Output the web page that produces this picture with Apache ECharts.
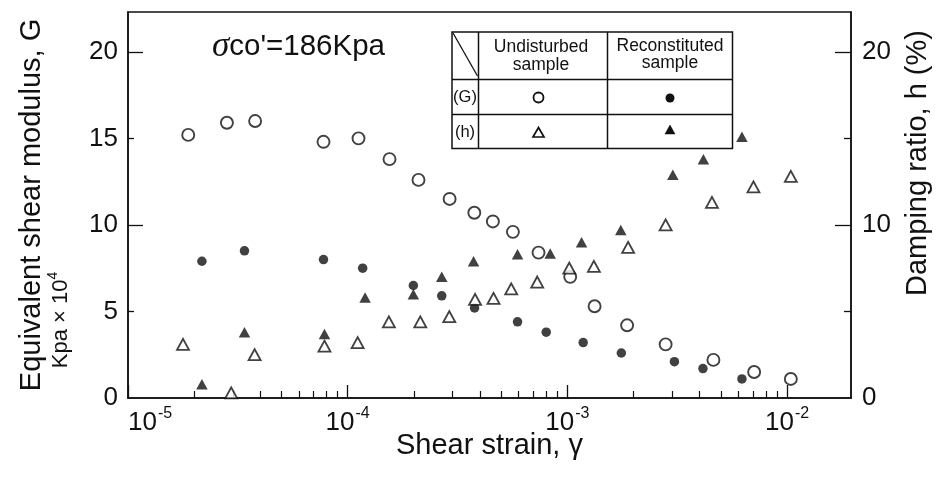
<!DOCTYPE html>
<html><head><meta charset="utf-8">
<script src="https://cdn.jsdelivr.net/npm/echarts@6/dist/echarts.min.js"></script>
<style>html,body{margin:0;padding:0;background:#fff}#c{width:940px;height:481px}</style>
</head><body><div id="c"></div>
<script>
// ---- data (shear strain, G in Kpa x 10^4, h in %) ----
const undisturbedG_strain = [1.88e-5, 2.82e-5, 3.79e-5, 7.76e-5, 1.12e-4, 1.55e-4, 2.10e-4, 2.91e-4, 3.77e-4, 4.58e-4, 5.65e-4, 7.39e-4, 1.03e-3, 1.33e-3, 1.87e-3, 2.80e-3, 4.62e-3, 7.08e-3, 1.04e-2];
const undisturbedG_value  = [15.2, 15.9, 16.0, 14.8, 15.0, 13.8, 12.6, 11.5, 10.7, 10.2, 9.6, 8.4, 7.0, 5.3, 4.2, 3.1, 2.2, 1.5, 1.1];

const reconstitutedG_strain = [2.17e-5, 3.39e-5, 7.76e-5, 1.17e-4, 1.99e-4, 2.68e-4, 3.78e-4, 5.93e-4, 8.01e-4, 1.18e-3, 1.76e-3, 3.07e-3, 4.14e-3, 6.23e-3];
const reconstitutedG_value  = [7.9, 8.5, 8.0, 7.5, 6.5, 5.9, 5.2, 4.4, 3.8, 3.2, 2.6, 2.1, 1.7, 1.1];

const undisturbedH_strain = [1.78e-5, 2.95e-5, 3.77e-5, 7.84e-5, 1.11e-4, 1.54e-4, 2.14e-4, 2.90e-4, 3.80e-4, 4.61e-4, 5.55e-4, 7.29e-4, 1.02e-3, 1.32e-3, 1.89e-3, 2.80e-3, 4.55e-3, 7.03e-3, 1.04e-2];
const undisturbedH_value  = [3.1, 0.3, 2.5, 3.0, 3.2, 4.4, 4.4, 4.7, 5.7, 5.75, 6.3, 6.7, 7.5, 7.6, 8.7, 10.0, 11.3, 12.2, 12.8];

const reconstitutedH_strain = [2.17e-5, 3.39e-5, 7.84e-5, 1.20e-4, 1.99e-4, 2.68e-4, 3.74e-4, 5.93e-4, 8.35e-4, 1.16e-3, 1.75e-3, 3.02e-3, 4.16e-3, 6.23e-3];
const reconstitutedH_value  = [0.8, 3.8, 3.7, 5.8, 6.0, 7.0, 7.9, 8.3, 8.35, 9.0, 9.7, 12.9, 13.8, 15.1];

const xMajorTicks = [1e-5, 1e-4, 1e-3, 1e-2];
const xMinorTicks = [2e-5,3e-5,4e-5,5e-5,6e-5,7e-5,8e-5,9e-5, 2e-4,3e-4,4e-4,5e-4,6e-4,7e-4,8e-4,9e-4, 2e-3,3e-3,4e-3,5e-3,6e-3,7e-3,8e-3,9e-3];
const leftLabels = [0, 5, 10, 15, 20];
const rightLabels = [0, 10, 20];
const yMajorTicks = [10, 20];
const yMinorTicks = [5, 15];

const X_MIN = 1e-5, X_MAX = 0.01954, Y_MIN = 0, Y_MAX = 22.3;
const INK = '#111';
const FONT = 'Liberation Sans, Arial, Helvetica, sans-serif';

function pairs(xs, ys) { return xs.map((x, i) => [x, ys[i]]); }

const chart = echarts.init(document.getElementById('c'), null, {renderer: 'canvas'});

const xBase = {
  type: 'log', logBase: 10, min: X_MIN, max: X_MAX, gridIndex: 0, position: 'bottom',
  splitLine: {show: false}, minorTick: {show: false}, minorSplitLine: {show: false}
};
const yBase = {type: 'value', min: Y_MIN, max: Y_MAX, splitLine: {show: false}};
const ctr = {align: 'center', verticalAlign: 'middle', textAlign: 'center', textVerticalAlign: 'middle'};

const option = {
  animation: false,
  backgroundColor: '#fff',
  grid: {left: 128, top: 12, width: 723, height: 386, show: true, borderColor: INK, borderWidth: 1.5, backgroundColor: 'transparent'},
  xAxis: [
    Object.assign({}, xBase, {
      axisLine: {show: true, lineStyle: {color: INK, width: 1.5}},
      axisTick: {show: true, inside: true, length: 13, customValues: xMajorTicks, lineStyle: {color: INK, width: 1.3}},
      axisLabel: {
        show: true, customValues: xMajorTicks, margin: 8, alignMinLabel: 'left', color: INK,
        formatter: function (v) { const e = Math.round(Math.log10(v)); return '{b|10}{s|-' + (-e) + '}'; },
        rich: {
          b: {fontSize: 26, fontFamily: FONT, color: INK, lineHeight: 30, verticalAlign: 'bottom'},
          s: {fontSize: 16, fontFamily: FONT, color: INK, lineHeight: 30, verticalAlign: 'top', padding: [0, 0, 12, 1]}
        }
      },
      name: 'Shear strain, γ', nameLocation: 'middle', nameGap: 33, nameMoveOverlap: false,
      nameTextStyle: {fontSize: 29, fontFamily: FONT, color: INK}
    }),
    Object.assign({}, xBase, {
      axisLine: {show: false},
      axisTick: {show: true, inside: true, length: 7, customValues: xMinorTicks, lineStyle: {color: INK, width: 1.2}},
      axisLabel: {show: false}
    })
  ],
  yAxis: [
    Object.assign({}, yBase, {
      position: 'left',
      axisLine: {show: true, lineStyle: {color: INK, width: 1.5}},
      axisTick: {show: true, inside: true, length: 15, customValues: yMajorTicks, lineStyle: {color: INK, width: 1.3}},
      axisLabel: {show: true, customValues: leftLabels, margin: 10, fontSize: 26, fontFamily: FONT, color: INK, padding: [0, 0, 10, 0]},
      name: 'Equivalent shear modulus, G', nameLocation: 'middle', nameRotate: 90, nameGap: 82, nameMoveOverlap: false,
      nameTextStyle: {fontSize: 29, fontFamily: FONT, color: INK}
    }),
    Object.assign({}, yBase, {
      position: 'left',
      axisLine: {show: false},
      axisTick: {show: true, inside: true, length: 6, customValues: yMinorTicks, lineStyle: {color: INK, width: 1.3}},
      axisLabel: {show: false}
    }),
    Object.assign({}, yBase, {
      position: 'right',
      axisLine: {show: true, lineStyle: {color: INK, width: 1.5}},
      axisTick: {show: true, inside: true, length: 16, customValues: yMajorTicks, lineStyle: {color: INK, width: 1.3}},
      axisLabel: {show: true, customValues: rightLabels, margin: 11, fontSize: 26, fontFamily: FONT, color: INK, padding: [0, 0, 10, 0]},
      name: 'Damping ratio, h (%)', nameLocation: 'middle', nameRotate: 90, nameGap: 52, nameMoveOverlap: false,
      nameTextStyle: {fontSize: 29, fontFamily: FONT, color: INK, padding: [0, 0, 0, 84]}
    }),
    Object.assign({}, yBase, {
      position: 'right',
      axisLine: {show: false},
      axisTick: {show: true, inside: true, length: 7, customValues: yMinorTicks, lineStyle: {color: INK, width: 1.3}},
      axisLabel: {show: false}
    })
  ],
  series: [
    {name: 'Undisturbed sample (G)', type: 'scatter', xAxisIndex: 0, yAxisIndex: 0,
     symbol: 'circle', symbolSize: 12, itemStyle: {color: '#fff', borderColor: INK, borderWidth: 1.9},
     data: pairs(undisturbedG_strain, undisturbedG_value)},
    {name: 'Reconstituted sample (G)', type: 'scatter', xAxisIndex: 0, yAxisIndex: 0,
     symbol: 'circle', symbolSize: 9.5, itemStyle: {color: INK},
     data: pairs(reconstitutedG_strain, reconstitutedG_value)},
    {name: 'Undisturbed sample (h)', type: 'scatter', xAxisIndex: 0, yAxisIndex: 2,
     symbol: 'triangle', symbolSize: [12, 11], itemStyle: {color: '#fff', borderColor: INK, borderWidth: 1.8},
     data: pairs(undisturbedH_strain, undisturbedH_value)},
    {name: 'Reconstituted sample (h)', type: 'scatter', xAxisIndex: 0, yAxisIndex: 2,
     symbol: 'triangle', symbolSize: [11.5, 10.5], itemStyle: {color: INK},
     data: pairs(reconstitutedH_strain, reconstitutedH_value)}
  ],
  graphic: [
    // sigma annotation
    {type: 'text', x: 212, y: 47, style: {
      text: '{s|σ}{t|co\'=186Kpa}', align: 'left', verticalAlign: 'middle', textAlign: 'left', textVerticalAlign: 'middle',
      rich: {s: {fontSize: 35, fontFamily: 'Liberation Serif, serif', fontStyle: 'italic', fill: INK, color: INK},
             t: {fontSize: 29.5, fontFamily: FONT, fill: INK, color: INK}}
    }},
    // Kpa x 10^4 unit under the left axis name
    {type: 'text', x: 59, y: 320, rotation: Math.PI / 2, style: {
      text: '{a|Kpa × 10}{b|4}', align: 'center', verticalAlign: 'middle', textAlign: 'center', textVerticalAlign: 'middle',
      rich: {a: {fontSize: 22, fontFamily: FONT, fill: INK, color: INK, lineHeight: 26, verticalAlign: 'bottom'},
             b: {fontSize: 14, fontFamily: FONT, fill: INK, color: INK, lineHeight: 26, verticalAlign: 'top'}}
    }},
    // legend table
    {type: 'rect', shape: {x: 452, y: 32, width: 280.5, height: 116.5}, style: {fill: '#fff', stroke: INK, lineWidth: 1.5}},
    {type: 'line', shape: {x1: 478.5, y1: 32, x2: 478.5, y2: 148.5}, style: {stroke: INK, lineWidth: 1.5}},
    {type: 'line', shape: {x1: 607.5, y1: 32, x2: 607.5, y2: 148.5}, style: {stroke: INK, lineWidth: 1.5}},
    {type: 'line', shape: {x1: 452, y1: 79.5, x2: 732.5, y2: 79.5}, style: {stroke: INK, lineWidth: 1.5}},
    {type: 'line', shape: {x1: 452, y1: 114.5, x2: 732.5, y2: 114.5}, style: {stroke: INK, lineWidth: 1.5}},
    {type: 'line', shape: {x1: 453, y1: 33, x2: 477.5, y2: 76}, style: {stroke: INK, lineWidth: 1.3}},
    {type: 'text', x: 541, y: 47.5, style: Object.assign({text: 'Undisturbed', fontSize: 17.5, fontFamily: FONT, fill: INK}, ctr)},
    {type: 'text', x: 541, y: 65, style: Object.assign({text: 'sample', fontSize: 17.5, fontFamily: FONT, fill: INK}, ctr)},
    {type: 'text', x: 670, y: 46, style: Object.assign({text: 'Reconstituted', fontSize: 17.5, fontFamily: FONT, fill: INK}, ctr)},
    {type: 'text', x: 670, y: 63.5, style: Object.assign({text: 'sample', fontSize: 17.5, fontFamily: FONT, fill: INK}, ctr)},
    {type: 'text', x: 465, y: 97.5, style: Object.assign({text: '(G)', fontSize: 16.5, fontFamily: FONT, fill: INK}, ctr)},
    {type: 'text', x: 465, y: 132, style: Object.assign({text: '(h)', fontSize: 16.5, fontFamily: FONT, fill: INK}, ctr)},
    {type: 'circle', shape: {cx: 538.5, cy: 97.5, r: 5}, style: {fill: '#fff', stroke: INK, lineWidth: 1.8}},
    {type: 'circle', shape: {cx: 670, cy: 98, r: 4.5}, style: {fill: INK, stroke: INK, lineWidth: 0}},
    {type: 'polygon', shape: {points: [[538.5, 127.5], [544, 137], [533, 137]]}, style: {fill: '#fff', stroke: INK, lineWidth: 1.7}},
    {type: 'polygon', shape: {points: [[670, 125], [675, 134], [665, 134]]}, style: {fill: INK, stroke: INK, lineWidth: 0.5}}
  ]
};
chart.setOption(option);
</script>
</body></html>
